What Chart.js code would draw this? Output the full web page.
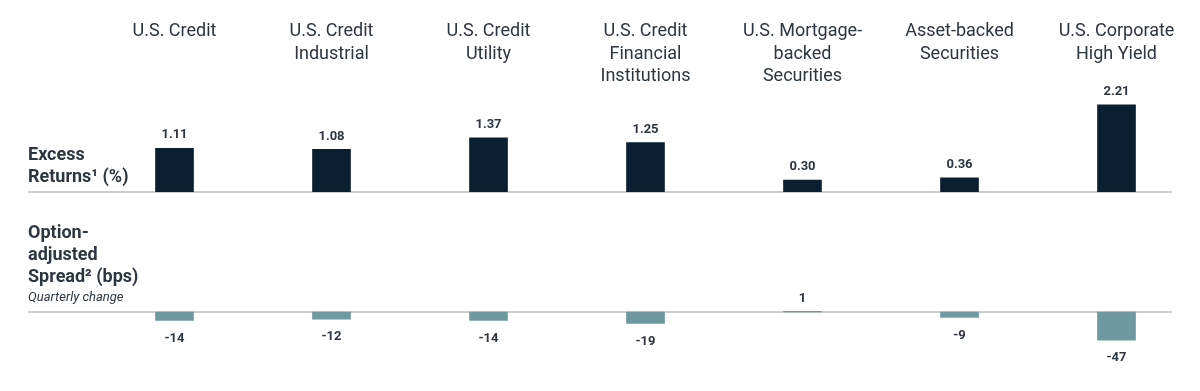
<!DOCTYPE html>
<html>
<head>
<meta charset="utf-8">
<script src="https://cdn.jsdelivr.net/npm/chart.js@4"></script>
<style>
  body { margin: 0; background: #fff; }
  #wrap { position: relative; width: 1200px; height: 391px; overflow: hidden; font-family: Roboto, sans-serif; color: #2b3641; }
  #top { position: absolute; left: 0; top: 0; }
  #bottom { position: absolute; left: 0; top: 200px; }
  .side { position: absolute; left: 28px; font-weight: 700; font-size: 18px; line-height: 22px; }
  .note { position: absolute; left: 28px; font-style: italic; font-size: 13px; line-height: 16px; }
</style>
</head>
<body>
<div id="wrap">
  <canvas id="top" width="1200" height="200"></canvas>
  <canvas id="bottom" width="1200" height="191"></canvas>
  <div class="side" style="top:143px">Excess<br>Returns¹ (%)</div>
  <div class="side" style="top:221px">Option-<br>adjusted<br>Spread² (bps)</div>
  <div class="note" style="top:289px">Quarterly change</div>
</div>
<script>
const categories = [
  ['U.S. Credit'],
  ['U.S. Credit', 'Industrial'],
  ['U.S. Credit', 'Utility'],
  ['U.S. Credit', 'Financial', 'Institutions'],
  ['U.S. Mortgage-', 'backed', 'Securities'],
  ['Asset-backed', 'Securities'],
  ['U.S. Corporate', 'High Yield']
];
const excessReturns = [1.11, 1.08, 1.37, 1.25, 0.30, 0.36, 2.21];
const spreadChange = [-14, -12, -14, -19, 1, -9, -47];

const textColor = '#2b3641';

// grey zero line running under the bars, from the left labels to the right
const baseLine = {
  id: 'baseLine',
  beforeDatasetsDraw(chart) {
    const y = chart.scales.y.getPixelForValue(0);
    const ctx = chart.ctx;
    ctx.save();
    ctx.strokeStyle = '#cccccc';
    ctx.lineWidth = 2;
    ctx.beginPath();
    ctx.moveTo(28, y);
    ctx.lineTo(1172, y);
    ctx.stroke();
    ctx.restore();
  }
};

// value labels above / below each bar
const valueLabels = {
  id: 'valueLabels',
  afterDatasetsDraw(chart, args, opts) {
    const ctx = chart.ctx;
    ctx.save();
    ctx.font = 'bold 13px Roboto';
    ctx.fillStyle = textColor;
    ctx.textAlign = 'center';
    ctx.textBaseline = 'middle';
    const ds = chart.data.datasets[0];
    chart.getDatasetMeta(0).data.forEach((bar, i) => {
      const v = ds.data[i];
      const txt = opts.decimals ? v.toFixed(opts.decimals) : String(v);
      const y = v >= 0 ? bar.y - 13 : bar.y + 18;
      ctx.fillText(txt, bar.x, y);
    });
    ctx.restore();
  }
};

function makeChart(id, values, color, yMin, yMax, showLabels, padding, decimals) {
  return new Chart(document.getElementById(id), {
    type: 'bar',
    data: {
      labels: categories,
      datasets: [{
        data: values,
        backgroundColor: color,
        barThickness: 38,
        borderWidth: 0
      }]
    },
    options: {
      responsive: false,
      animation: false,
      layout: { padding: padding },
      plugins: {
        legend: { display: false },
        tooltip: { enabled: false },
        valueLabels: { decimals: decimals }
      },
      scales: {
        x: {
          display: showLabels,
          position: 'top',
          grid: { display: false, drawTicks: false },
          border: { display: false },
          ticks: {
            color: textColor,
            font: { family: 'Roboto', size: 18, lineHeight: 1.25 },
            crossAlign: 'far',
            padding: 3,
            autoSkip: false,
            maxRotation: 0
          },
          afterFit: scale => { if (showLabels) scale.height = 80; }
        },
        y: {
          display: false,
          min: yMin,
          max: yMax
        }
      }
    },
    plugins: [baseLine, valueLabels]
  });
}

makeChart('top', excessReturns, '#0b1f33', 0, 2.56, true,
  { top: 11, bottom: 8, left: 96, right: 5 }, 2);
makeChart('bottom', spreadChange, '#6f99a1', -100, 100, false,
  { top: 52, bottom: 19, left: 96, right: 5 }, 0);
</script>
</body>
</html>
